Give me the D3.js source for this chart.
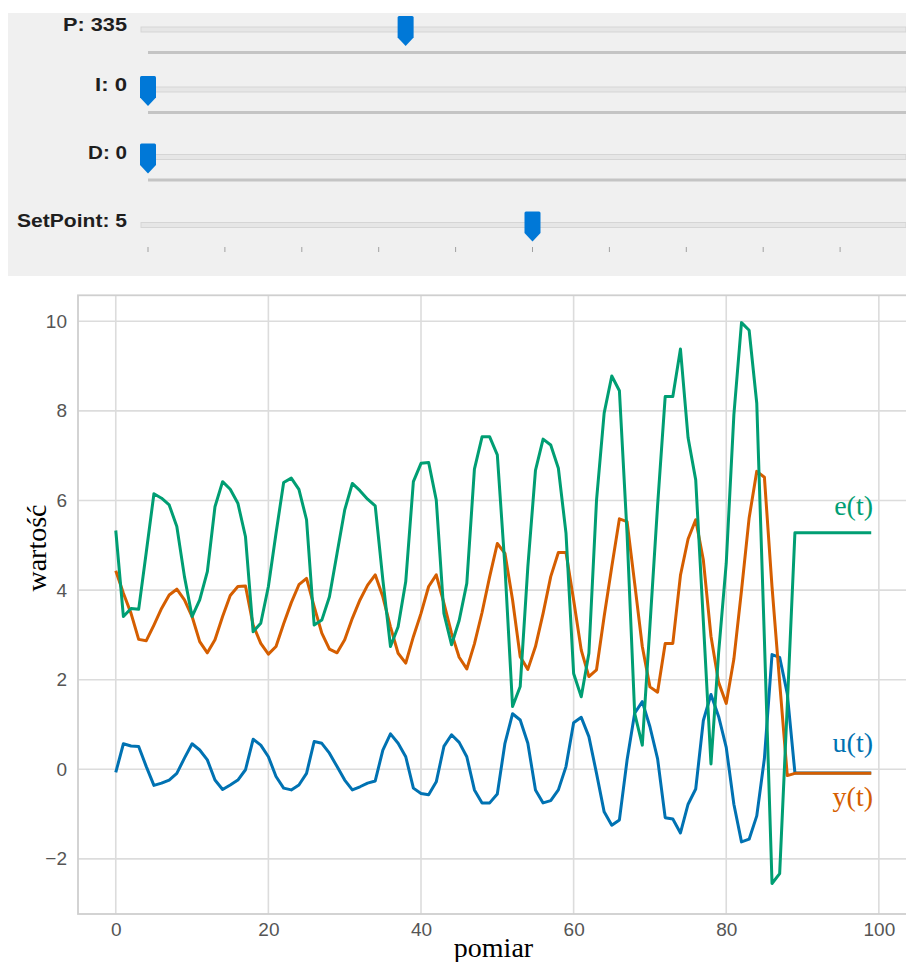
<!DOCTYPE html>
<html>
<head>
<meta charset="utf-8">
<script src="https://cdn.jsdelivr.net/npm/d3@7/dist/d3.min.js"></script>
<style>
  body { margin: 0; background: #fff; }
</style>
</head>
<body>
<div id="chart"></div>
<script>
// slider settings (P, I, D, SetPoint)
var sliderNames = ["P", "I", "D", "SetPoint"];
var sliderValues = [335, 0, 0, 5];
var sliderMax = [1000, 10, 10, 10];
var setPointTicks = [0, 1, 2, 3, 4, 5, 6, 7, 8, 9, 10];

// measured series, one value per sample
var eValues = [5.33, 3.41, 3.59, 3.57, 4.85, 6.15, 6.05, 5.90, 5.42, 4.30,
  3.41, 3.78, 4.41, 5.86, 6.42, 6.25, 5.94, 5.19, 3.07, 3.26,
  4.08, 5.27, 6.40, 6.50, 6.25, 5.57, 3.22, 3.33, 3.85, 4.82,
  5.79, 6.38, 6.22, 6.03, 5.88, 4.23, 2.74, 3.18, 4.19, 6.42,
  6.83, 6.85, 6.01, 3.48, 2.78, 3.32, 4.15, 6.70, 7.42, 7.42,
  7.02, 4.52, 1.40, 1.85, 4.52, 6.67, 7.37, 7.24, 6.72, 5.27,
  2.14, 1.62, 2.59, 6.00, 7.95, 8.78, 8.45, 5.27, 1.25, 0.54,
  3.20, 5.88, 8.32, 8.32, 9.38, 7.40, 6.46, 3.30, 0.12, 2.60,
  4.60, 7.91, 9.97, 9.80, 8.17, 2.90, -2.55, -2.33, 1.43, 5.28,
  5.28, 5.28, 5.28, 5.28, 5.28, 5.28, 5.28, 5.28, 5.28, 5.28];

var yValues = [4.43, 3.93, 3.48, 2.90, 2.87, 3.22, 3.59, 3.89, 4.02, 3.78,
  3.41, 2.85, 2.60, 2.89, 3.41, 3.88, 4.08, 4.09, 3.22, 2.81,
  2.57, 2.74, 3.25, 3.72, 4.12, 4.26, 3.63, 3.04, 2.68, 2.60,
  2.89, 3.37, 3.78, 4.11, 4.34, 3.85, 3.18, 2.59, 2.37, 2.96,
  3.48, 4.08, 4.34, 3.71, 3.04, 2.50, 2.24, 2.80, 3.50, 4.30,
  5.04, 4.82, 3.78, 2.51, 2.23, 2.74, 3.48, 4.30, 4.84, 4.84,
  3.78, 2.66, 2.07, 2.22, 3.41, 4.52, 5.59, 5.53, 4.15, 2.74,
  1.84, 1.72, 2.81, 2.81, 4.33, 5.14, 5.57, 4.67, 2.97, 1.94,
  1.47, 2.46, 3.99, 5.61, 6.65, 6.52, 4.07, 1.94, -0.14, -0.09,
  -0.09, -0.09, -0.09, -0.09, -0.09, -0.09, -0.09, -0.09, -0.09, -0.09];

var uValues = [-0.07, 0.57, 0.52, 0.51, 0.06, -0.36, -0.31, -0.24, -0.09, 0.25,
  0.57, 0.43, 0.21, -0.24, -0.45, -0.35, -0.24, -0.01, 0.67, 0.54,
  0.28, -0.16, -0.42, -0.46, -0.35, -0.09, 0.62, 0.58, 0.36, 0.06,
  -0.24, -0.46, -0.39, -0.31, -0.26, 0.43, 0.79, 0.58, 0.28, -0.42,
  -0.54, -0.57, -0.28, 0.51, 0.77, 0.60, 0.28, -0.46, -0.75, -0.75,
  -0.55, 0.58, 1.24, 1.10, 0.58, -0.46, -0.75, -0.70, -0.46, 0.06,
  1.04, 1.16, 0.73, -0.09, -0.95, -1.25, -1.13, 0.20, 1.25, 1.51,
  0.95, 0.24, -1.08, -1.11, -1.42, -0.78, -0.44, 1.09, 1.67, 1.18,
  0.49, -0.78, -1.62, -1.56, -1.04, 0.24, 2.56, 2.50, 1.69, -0.08,
  -0.08, -0.08, -0.08, -0.08, -0.08, -0.08, -0.08, -0.08, -0.08, -0.08];

var seriesNames = ["u(t)", "y(t)", "e(t)"];
var xTicks = [0, 20, 40, 60, 80, 100];
var yTicks = [-2, 0, 2, 4, 6, 8, 10];

var width = 906, height = 962;
var svg = d3.select("#chart").append("svg")
    .attr("width", width).attr("height", height);

// ---- slider panel ----
var panel = svg.append("g");
panel.append("rect")
  .attr("x", 8).attr("y", 13).attr("width", width - 8).attr("height", 263)
  .attr("fill", "#f0f0f0");

var trackY = [29.5, 89.5, 157, 225];
var labelWidth = [64, 32, 39, 110];

sliderNames.forEach(function(name, i) {
  var sx = d3.scaleLinear().domain([0, sliderMax[i]]).range([148, 917]);
  var ty = trackY[i];

  panel.append("text")
    .attr("x", 127).attr("y", ty + 1.5)
    .attr("text-anchor", "end")
    .attr("textLength", labelWidth[i]).attr("lengthAdjust", "spacingAndGlyphs")
    .style("font-family", "'Liberation Sans Narrow', 'Liberation Sans', Arial, sans-serif")
    .style("font-weight", "bold").style("font-size", "19px").style("fill", "#1e1e1e")
    .text(name + ": " + sliderValues[i]);

  panel.append("rect")
    .attr("x", 141).attr("y", ty - 2.5).attr("width", width - 141).attr("height", 5)
    .attr("fill", "#e6e6e6").attr("stroke", "#d5d5d5").attr("stroke-width", 1);

  if (name != "SetPoint") {
    panel.append("rect")
      .attr("x", 148).attr("y", ty + 21.5).attr("width", width - 148).attr("height", 3)
      .attr("fill", "#c4c4c4");
  } else {
    panel.selectAll(".sptick")
      .data(setPointTicks).enter().append("line")
        .attr("x1", function(d) { return sx(d); })
        .attr("x2", function(d) { return sx(d); })
        .attr("y1", ty + 22).attr("y2", ty + 27)
        .attr("stroke", "#a0a0a0").attr("stroke-width", 1);
  }

  var cx = sx(sliderValues[i]);
  panel.append("path")
    .attr("d", "M" + (cx - 8) + "," + (ty - 12) +
      "Q" + (cx - 8) + "," + (ty - 13.5) + " " + (cx - 6.5) + "," + (ty - 13.5) +
      "L" + (cx + 6.5) + "," + (ty - 13.5) +
      "Q" + (cx + 8) + "," + (ty - 13.5) + " " + (cx + 8) + "," + (ty - 12) +
      "L" + (cx + 8) + "," + (ty + 8) +
      "L" + cx + "," + (ty + 16.5) +
      "L" + (cx - 8) + "," + (ty + 8) + "Z")
    .attr("fill", "#0078d7");
});

// ---- line chart ----
var x = d3.scaleLinear().domain([-4.95, 103.95]).range([78, 909]);
var y = d3.scaleLinear().domain([-3.23, 10.58]).range([914, 295.3]);

var g = svg.append("g");

g.selectAll(".xgrid")
  .data(xTicks).enter().append("line")
    .attr("x1", function(d) { return x(d); }).attr("x2", function(d) { return x(d); })
    .attr("y1", y.range()[0]).attr("y2", y.range()[1])
    .attr("stroke", "#dcdcdc").attr("stroke-width", 1.6);

g.selectAll(".ygrid")
  .data(yTicks).enter().append("line")
    .attr("x1", x.range()[0]).attr("x2", x.range()[1])
    .attr("y1", function(d) { return y(d); }).attr("y2", function(d) { return y(d); })
    .attr("stroke", "#dcdcdc").attr("stroke-width", 1.6);

g.append("rect")
  .attr("x", x.range()[0]).attr("y", y.range()[1])
  .attr("width", x.range()[1] - x.range()[0]).attr("height", y.range()[0] - y.range()[1])
  .attr("fill", "none").attr("stroke", "#cfcfcf").attr("stroke-width", 1.8);

var xAxis = d3.axisBottom(x).tickValues(xTicks).tickSize(0).tickPadding(9);
var yAxis = d3.axisLeft(y).tickValues(yTicks).tickSize(0).tickPadding(11)
  .tickFormat(function(d) { return d < 0 ? "\u2212" + Math.abs(d) : d; });

g.append("g").attr("transform", "translate(0," + y.range()[0] + ")").call(xAxis)
  .call(function(a) { a.select(".domain").remove(); });
g.append("g").attr("transform", "translate(" + x.range()[0] + ",0)").call(yAxis)
  .call(function(a) { a.select(".domain").remove(); });

g.selectAll(".tick text")
  .style("font-family", "'Liberation Sans', Arial, sans-serif")
  .style("font-size", "19px").style("fill", "#555");

var colors = ["#0072B2", "#D55E00", "#009E73"];
var allSeries = [uValues, yValues, eValues];

var line = d3.line()
  .x(function(d, i) { return x(i); })
  .y(function(d) { return y(d); });

g.selectAll(".series")
  .data(allSeries).enter().append("path")
    .attr("d", line)
    .attr("fill", "none")
    .attr("stroke", function(d, i) { return colors[i]; })
    .attr("stroke-width", 3)
    .attr("stroke-linejoin", "round");

// series names next to line ends
var labelY = [752, 806, 515];
g.selectAll(".name")
  .data(seriesNames).enter().append("text")
    .attr("x", 873)
    .attr("y", function(d, i) { return labelY[i]; })
    .attr("text-anchor", "end")
    .style("font-family", "'Liberation Serif', 'Times New Roman', serif")
    .style("font-size", "28px")
    .style("fill", function(d, i) { return colors[i]; })
    .text(function(d) { return d; });

svg.append("text")
  .attr("x", x(49.5)).attr("y", 957)
  .attr("text-anchor", "middle")
  .style("font-family", "'Liberation Serif', 'Times New Roman', serif")
  .style("font-size", "28px").style("fill", "#000")
  .text("pomiar");

svg.append("text")
  .attr("transform", "translate(46,548) rotate(-90)")
  .attr("text-anchor", "middle")
  .style("font-family", "'Liberation Serif', 'Times New Roman', serif")
  .style("font-size", "28px").style("fill", "#000")
  .text("wartość");
</script>
</body>
</html>
